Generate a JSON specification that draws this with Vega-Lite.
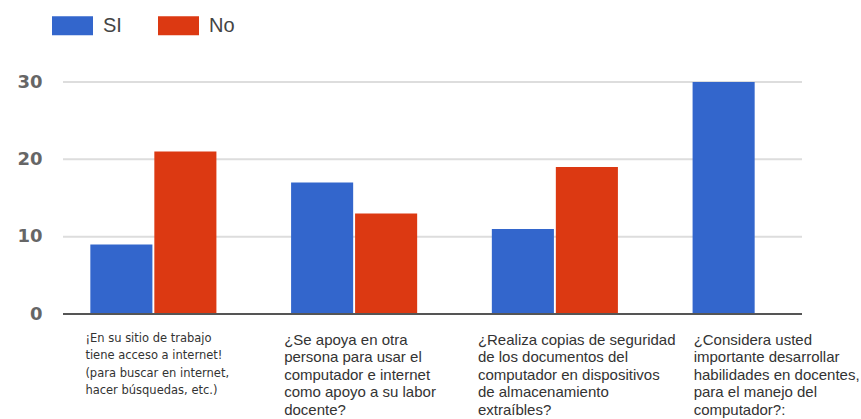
{
  "$schema": "https://vega.github.io/schema/vega-lite/v6.json",
  "width": 739,
  "height": 232,
  "autosize": {"type": "none"},
  "padding": {"left": 63, "top": 82, "right": 59, "bottom": 105},
  "background": "white",
  "config": {
    "view": {"stroke": null},
    "axisY": {
      "title": null,
      "domain": false,
      "ticks": false,
      "grid": false,
      "labelPadding": 21,
      "labelFont": "DejaVu Sans",
      "labelFontSize": 18,
      "labelFontWeight": "bold",
      "labelColor": "#666666"
    }
  },
  "datasets": {
    "respuestas": [
      {"pregunta": "¡En su sitio de trabajo\ntiene acceso a internet!\n(para buscar en internet,\nhacer búsquedas, etc.)", "respuesta": "SI", "cantidad": 9},
      {"pregunta": "¡En su sitio de trabajo\ntiene acceso a internet!\n(para buscar en internet,\nhacer búsquedas, etc.)", "respuesta": "No", "cantidad": 21},
      {"pregunta": "¿Se apoya en otra\npersona para usar el\ncomputador e internet\ncomo apoyo a su labor\ndocente?", "respuesta": "SI", "cantidad": 17},
      {"pregunta": "¿Se apoya en otra\npersona para usar el\ncomputador e internet\ncomo apoyo a su labor\ndocente?", "respuesta": "No", "cantidad": 13},
      {"pregunta": "¿Realiza copias de seguridad\nde los documentos del\ncomputador en dispositivos\nde almacenamiento\nextraíbles?", "respuesta": "SI", "cantidad": 11},
      {"pregunta": "¿Realiza copias de seguridad\nde los documentos del\ncomputador en dispositivos\nde almacenamiento\nextraíbles?", "respuesta": "No", "cantidad": 19},
      {"pregunta": "¿Considera usted\nimportante desarrollar\nhabilidades en docentes,\npara el manejo del\ncomputador?:", "respuesta": "SI", "cantidad": 30},
      {"pregunta": "¿Considera usted\nimportante desarrollar\nhabilidades en docentes,\npara el manejo del\ncomputador?:", "respuesta": "No", "cantidad": 0}
    ],
    "rejilla": [{"v": 10}, {"v": 20}, {"v": 30}],
    "base": [{"v": 0}]
  },
  "layer": [
    {
      "data": {"name": "rejilla"},
      "mark": {"type": "rule", "color": "#dddddd", "strokeWidth": 2},
      "encoding": {
        "y": {"field": "v", "type": "quantitative", "scale": {"domain": [0, 30]}, "axis": {"values": [0, 10, 20, 30]}}
      }
    },
    {
      "data": {"name": "respuestas"},
      "mark": {"type": "bar"},
      "encoding": {
        "x": {
          "field": "pregunta",
          "type": "nominal",
          "sort": null,
          "scale": {"range": [-10, 793], "paddingInner": 0.372, "paddingOuter": 0.186},
          "axis": {
            "title": null,
            "domain": false,
            "ticks": false,
            "grid": false,
            "labelAngle": 0,
            "labelAlign": "left",
            "labelBaseline": "top",
            "labelPadding": 18,
            "labelLineHeight": 17.5,
            "labelOverlap": false,
            "labelFlush": false,
            "labelLimit": 0,
            "labelColor": "#333333",
            "labelExpr": "split(datum.label, '\\n')",
            "labelFont": {"condition": {"test": "indexof(datum.value, 'sitio') >= 0", "value": "DejaVu Sans"}, "value": "Liberation Sans"},
            "labelFontSize": {"condition": {"test": "indexof(datum.value, 'sitio') >= 0", "value": 11.5}, "value": 15},
            "labelOffset": {"condition": [
              {"test": "indexof(datum.value, 'sitio') >= 0", "value": -68},
              {"test": "indexof(datum.value, 'Realiza') >= 0", "value": -77},
              {"test": "indexof(datum.value, 'Considera') >= 0", "value": -62}
            ], "value": -70}
          }
        },
        "xOffset": {"field": "respuesta", "type": "nominal", "sort": ["SI", "No"], "scale": {"paddingInner": 0.03}},
        "y": {
          "field": "cantidad",
          "type": "quantitative",
          "scale": {"domain": [0, 30]},
          "axis": {"values": [0, 10, 20, 30]}
        },
        "color": {
          "field": "respuesta",
          "type": "nominal",
          "sort": ["SI", "No"],
          "scale": {"domain": ["SI", "No"], "range": ["#3366cc", "#dc3912"]},
          "legend": {
            "title": null,
            "orient": "none",
            "legendX": -11,
            "legendY": -77,
            "direction": "horizontal",
            "padding": 0,
            "symbolType": "M-1,-0.46H1V0.46H-1Z",
            "symbolSize": 1681,
            "symbolStrokeWidth": 0,
            "symbolOpacity": 1,
            "labelFont": "Liberation Sans",
            "labelFontSize": 20,
            "labelColor": "#444444",
            "labelOffset": 10,
            "columnPadding": 36
          }
        }
      }
    },
    {
      "data": {"name": "base"},
      "mark": {"type": "rule", "color": "#555555", "strokeWidth": 2},
      "encoding": {
        "y": {"field": "v", "type": "quantitative", "axis": {"values": [0, 10, 20, 30]}}
      }
    }
  ]
}
